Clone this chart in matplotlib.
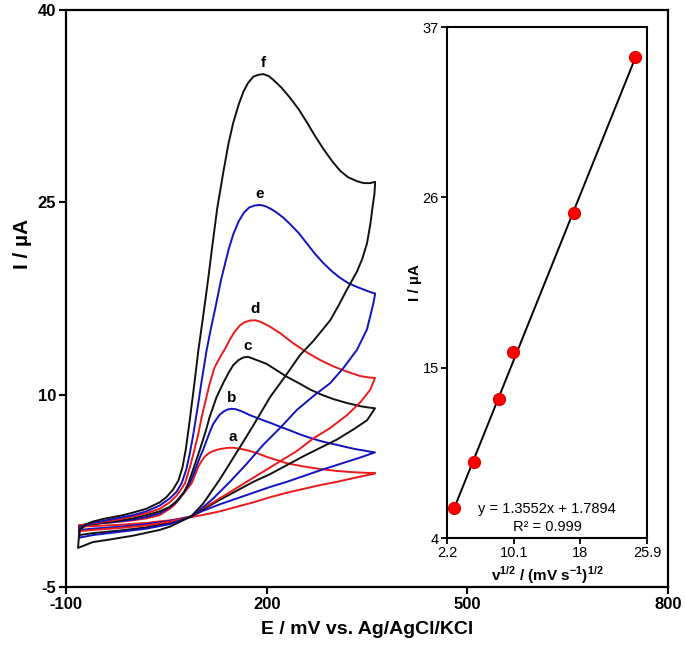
import numpy as np
import matplotlib
matplotlib.use("Agg")
import matplotlib.pyplot as plt

plt.rcParams['font.family'] = ['Liberation Sans', 'DejaVu Sans']
plt.rcParams['mathtext.fontset'] = 'custom'
plt.rcParams['mathtext.rm'] = 'Liberation Sans'
plt.rcParams['mathtext.bf'] = 'Liberation Sans:bold'
plt.rcParams['axes.unicode_minus'] = False

# ---------------- CV data (E in mV, I in uA) ----------------
a_fwd_E = [-80, -70, -60, -45, -30, -15, 0, 20, 40, 55, 63, 70, 79, 88, 93, 98, 103, 108, 114, 120, 127, 135,
           142, 150, 158, 166, 175, 185, 200, 215, 230, 255, 280, 305, 330, 350, 362]
a_fwd_I = [-0.2, -0.1, -0.05, 0.0, 0.05, 0.12, 0.2, 0.35, 0.6, 1.1, 1.45, 1.9, 2.5, 3.1, 3.75, 4.4, 4.85, 5.2,
           5.45, 5.6, 5.72, 5.8, 5.85, 5.86, 5.8, 5.72, 5.6, 5.45, 5.15, 4.9, 4.65, 4.4, 4.2, 4.05, 3.95, 3.9, 3.9]
a_rev_E = [362, 330, 305, 280, 255, 230, 205, 180, 155, 130, 105, 87, 55, 20, -20, -60, -80]
a_rev_I = [3.85, 3.5, 3.2, 2.95, 2.65, 2.35, 2.0, 1.6, 1.25, 0.9, 0.62, 0.45, 0.2, 0.0, -0.15, -0.25, -0.3]

b_fwd_E = [-80, -70, -60, -45, -30, -15, 0, 20, 40, 55, 63, 70, 78, 85, 90, 95, 100, 105, 110, 115, 120, 125,
           130, 136, 142, 148, 155, 165, 175, 185, 195, 208, 220, 233, 245, 258, 270, 283, 295, 308, 320, 333,
           345, 355, 362]
b_fwd_I = [-0.3, -0.15, -0.1, 0.0, 0.05, 0.15, 0.25, 0.45, 0.75, 1.2, 1.55, 2.0, 2.5, 3.1, 3.7, 4.4, 5.1, 5.7,
           6.4, 7.1, 7.7, 8.1, 8.45, 8.7, 8.85, 8.9, 8.85, 8.65, 8.4, 8.2, 8.0, 7.75, 7.5, 7.25, 7.0, 6.75, 6.55,
           6.35, 6.2, 6.05, 5.9, 5.75, 5.65, 5.55, 5.5]
b_rev_E = [362, 340, 310, 280, 255, 230, 205, 180, 155, 130, 105, 87, 55, 20, -20, -60, -80]
b_rev_I = [5.5, 5.1, 4.6, 4.1, 3.65, 3.2, 2.8, 2.35, 1.9, 1.45, 0.95, 0.5, 0.15, -0.1, -0.3, -0.45, -0.55]

c_fwd_E = [-80, -70, -60, -45, -30, -15, 0, 20, 40, 55, 68, 76, 83, 91, 100, 108, 115, 125, 135, 143, 150, 158,
           165, 172, 180, 190, 200, 215, 230, 248, 265, 282, 300, 320, 340, 352, 362]
c_fwd_I = [-0.4, -0.15, -0.1, 0.0, 0.1, 0.22, 0.35, 0.6, 0.9, 1.25, 1.8, 2.35, 3.1, 4.3, 5.7, 7.0, 8.3, 9.8,
           10.9, 11.7, 12.3, 12.7, 12.9, 12.95, 12.8, 12.6, 12.4, 11.9, 11.4, 10.9, 10.4, 10.0, 9.65, 9.35, 9.1,
           9.0, 8.94]
c_rev_E = [362, 350, 330, 305, 280, 255, 230, 205, 180, 155, 130, 105, 87, 55, 20, -20, -60, -80]
c_rev_I = [8.94, 8.0, 7.3, 6.5, 5.85, 5.2, 4.5, 3.8, 3.2, 2.5, 1.8, 1.05, 0.5, 0.0, -0.35, -0.6, -0.8, -0.95]

d_fwd_E = [-80, -70, -60, -45, -30, -15, 0, 20, 40, 55, 65, 72, 78, 85, 92, 98, 103, 109, 115, 122, 130, 138,
           145, 152, 160, 167, 175, 183, 190, 198, 205, 220, 240, 260, 280, 300, 320, 340, 352, 362]
d_fwd_I = [-0.45, -0.15, -0.05, 0.08, 0.2, 0.35, 0.5, 0.75, 1.1, 1.6, 2.1, 2.6, 3.1, 4.3, 5.7, 7.0, 8.3, 9.6,
           10.9, 12.1, 12.9, 13.6, 14.3, 14.9, 15.4, 15.65, 15.78, 15.8, 15.7, 15.5, 15.3, 14.8, 14.0, 13.3, 12.7,
           12.2, 11.8, 11.45, 11.35, 11.3]
d_rev_E = [362, 355, 340, 320, 295, 270, 245, 220, 195, 170, 145, 120, 100, 87, 55, 20, -20, -60, -80]
d_rev_I = [11.3, 10.4, 9.4, 8.4, 7.4, 6.6, 5.6, 4.8, 4.0, 3.2, 2.4, 1.6, 1.0, 0.5, 0.1, -0.2, -0.4, -0.55, -0.65]

e_fwd_E = [-80, -70, -60, -45, -30, -15, 0, 20, 40, 55, 65, 73, 80, 85, 90, 94, 98, 102, 106, 110, 116, 123,
           132, 143, 150, 158, 166, 174, 182, 190, 198, 206, 215, 225, 235, 248, 260, 272, 285, 298, 310, 322,
           335, 345, 355, 362]
e_fwd_I = [-0.5, -0.15, 0.0, 0.15, 0.3, 0.45, 0.6, 0.9, 1.35, 1.9, 2.4, 3.1, 4.2, 5.4, 6.8, 8.1, 9.4, 10.8,
           12.1, 13.4, 15.0, 16.7, 19.0, 21.3, 22.5, 23.5, 24.2, 24.6, 24.75, 24.8, 24.7, 24.5, 24.2, 23.8, 23.3,
           22.6, 21.8, 21.0, 20.25, 19.6, 19.1, 18.7, 18.4, 18.2, 18.0, 17.9]
e_rev_E = [362, 359, 350, 335, 315, 295, 270, 245, 220, 195, 170, 145, 120, 100, 87, 55, 20, -20, -60, -80]
e_rev_I = [17.8, 17.0, 15.1, 13.5, 12.1, 10.9, 9.9, 8.8, 7.4, 6.1, 4.6, 3.2, 1.9, 1.0, 0.5, -0.1, -0.45, -0.7,
           -0.95, -1.15]

f_fwd_E = [-80, -70, -60, -45, -30, -15, 0, 20, 40, 50, 60, 68, 74, 79, 85, 92, 98, 105, 112, 118, 126, 135,
           143, 150, 158, 165, 172, 180, 188, 195, 203, 210, 222, 235, 248, 260, 272, 285, 298, 310, 322, 335,
           345, 355, 362]
f_fwd_I = [-0.6, -0.1, 0.1, 0.3, 0.45, 0.6, 0.8, 1.1, 1.6, 2.0, 2.6, 3.3, 4.3, 5.7, 8.0, 10.9, 13.5, 16.1,
           18.8, 21.3, 24.5, 27.3, 29.6, 31.2, 32.6, 33.6, 34.3, 34.8, 34.95, 35.0, 34.85, 34.55, 33.95, 33.15,
           32.25, 31.25, 30.2, 29.15, 28.2, 27.45, 26.95, 26.65, 26.5, 26.5, 26.6]
f_rev_E = [362, 361, 359, 355, 350, 343, 335, 320, 308, 295, 270, 250, 230, 205, 180, 160, 130, 105, 87, 55,
           40, 0, -35, -60, -82]
f_rev_I = [26.4, 25.6, 24.9, 23.3, 21.8, 20.6, 19.6, 18.2, 17.0, 15.8, 14.2, 13.1, 11.6, 9.8, 7.6, 5.9, 3.4,
           1.5, 0.5, -0.3, -0.55, -1.0, -1.3, -1.5, -1.95]

curve_labels = ['a', 'b', 'c', 'd', 'e', 'f']
curve_colors = ['#ea1a1a', '#1212c0', '#111111', '#ea1a1a', '#1212c0', '#111111']

main_xticks = [-100, 200, 500, 800]
main_yticks = [-5, 10, 25, 40]

# ---------------- Inset data ----------------
sqrt_v = [3.07, 5.40, 8.36, 9.98, 17.25, 24.50]
peak_I = [5.92, 8.93, 12.96, 15.99, 25.00, 35.04]
fit_slope = 1.3552
fit_intercept = 1.7894
inset_xticks = [2.2, 10.1, 18, 25.9]
inset_xticklabels = ['2.2', '10.1', '18', '25.9']
inset_yticks = [4, 15, 26, 37]

# ---------------- Figure ----------------
W, H = 685, 648
fig = plt.figure(figsize=(W / 100, H / 100), dpi=100)
ax = fig.add_axes([66 / W, 1 - 587 / H, (668 - 66) / W, (587 - 10) / H])

fwd_E = [a_fwd_E, b_fwd_E, c_fwd_E, d_fwd_E, e_fwd_E, f_fwd_E]
fwd_I = [a_fwd_I, b_fwd_I, c_fwd_I, d_fwd_I, e_fwd_I, f_fwd_I]
rev_E = [a_rev_E, b_rev_E, c_rev_E, d_rev_E, e_rev_E, f_rev_E]
rev_I = [a_rev_I, b_rev_I, c_rev_I, d_rev_I, e_rev_I, f_rev_I]

for k in range(6):
    E = list(fwd_E[k]) + list(rev_E[k]) + [fwd_E[k][0]]
    I = list(fwd_I[k]) + list(rev_I[k]) + [fwd_I[k][0]]
    ax.plot(E, I, color=curve_colors[k], lw=1.4, solid_joinstyle='round')
    j = int(np.argmax(fwd_I[k]))
    ax.annotate(curve_labels[k], (fwd_E[k][j], fwd_I[k][j]), xytext=(0, 3),
                textcoords='offset points', ha='center', va='bottom',
                fontsize=11, fontweight='bold')

ax.set_xlim(-100, 800)
ax.set_ylim(-5, 40)
ax.set_xticks(main_xticks)
ax.set_yticks(main_yticks)
ax.tick_params(direction='out', length=5, width=1.5, labelsize=12, pad=2)
for lab in ax.get_xticklabels() + ax.get_yticklabels():
    lab.set_fontweight('bold')
for sp in ax.spines.values():
    sp.set_linewidth(1.6)
ax.set_xlabel('E / mV vs. Ag/AgCl/KCl', fontsize=14, fontweight='bold', labelpad=7)
ax.set_ylabel('I / µA', fontsize=15, fontweight='bold')
ax.yaxis.set_label_coords(-0.056, 0.594)

# ---------------- Inset ----------------
ins = fig.add_axes([447 / W, 1 - 538 / H, (647 - 447) / W, (538 - 27) / H])
xf = np.array([sqrt_v[0], sqrt_v[-1]])
ins.plot(xf, fit_slope * xf + fit_intercept, color='black', lw=1.4, zorder=2)
ins.plot(sqrt_v, peak_I, 'o', color='#ff0000', ms=8.5, mec='#e00000', zorder=3)
ins.set_xlim(2.2, 25.9)
ins.set_ylim(4, 37)
ins.set_xticks(inset_xticks)
ins.set_xticklabels(inset_xticklabels)
ins.set_yticks(inset_yticks)
ins.tick_params(direction='out', length=4, width=1.3, labelsize=10.5, pad=2)
for sp in ins.spines.values():
    sp.set_linewidth(1.5)
ins.set_ylabel('I / µA', fontsize=11, fontweight='bold')
ins.yaxis.set_label_coords(-0.125, 0.5)
ins.set_xlabel(r'v$^{\mathbf{1/2}}$ / (mV s$^{\mathbf{-1}}$)$^{\mathbf{1/2}}$',
               fontsize=11, fontweight='bold', labelpad=3)
ins.text(0.5, 0.056, f'y = {fit_slope:.4f}x + {fit_intercept:.4f}', transform=ins.transAxes,
         ha='center', va='center', fontsize=10.5)
ins.text(0.5, 0.022, 'R² = 0.999', transform=ins.transAxes,
         ha='center', va='center', fontsize=10.5)

fig.savefig('out.png', dpi=100)
